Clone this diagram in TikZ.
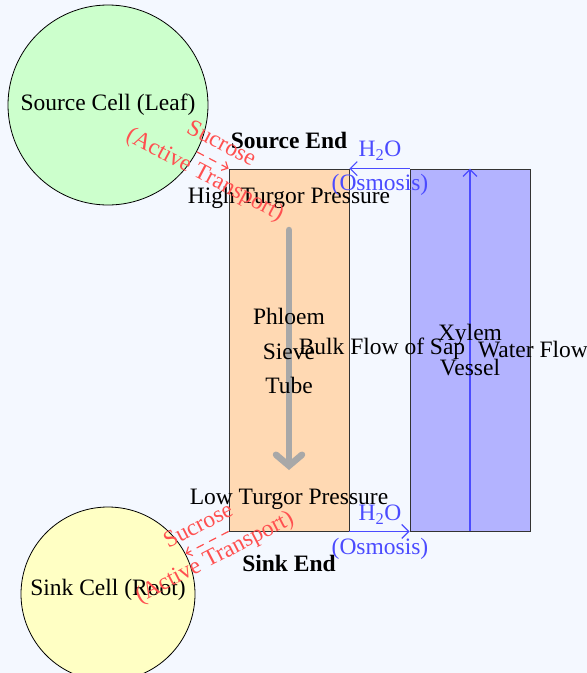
\documentclass[tikz,border=0pt]{standalone}
\usepackage{fontspec}
\setmainfont{Liberation Serif}
\usetikzlibrary{arrows.meta}
\definecolor{bgcol}{HTML}{F4F8FF}
\definecolor{leafcol}{HTML}{CCFFCC}
\definecolor{rootcol}{HTML}{FFFFC4}
\definecolor{phloemcol}{HTML}{FFD9B3}
\definecolor{xylemcol}{HTML}{B3B3FF}
\definecolor{watercol}{HTML}{4B4BFF}
\definecolor{sugarcol}{HTML}{FF5050}
\definecolor{flowcol}{HTML}{A8A8A8}
\tikzset{
  txt/.style={font=\fontsize{23.5}{27}\selectfont, inner sep=0pt, align=center},
  cell/.style={circle, draw=black, line width=0.8pt, inner sep=0pt},
  tube/.style={rectangle, draw=black!80, line width=0.8pt, minimum width=120pt, minimum height=362pt, inner sep=0pt},
  water/.style={draw=watercol, line width=1.2pt, -{Straight Barb[length=7pt,width=14pt]}},
  sugar/.style={draw=sugarcol, line width=1.2pt, dashed, dash pattern=on 8pt off 6pt, -{Straight Barb[length=5pt,width=10pt]}},
  sugartxt/.style={txt, text=sugarcol, font=\fontsize{23.5}{35}\selectfont},
  watertxt/.style={txt, text=watercol},
}
\begin{document}
\begin{tikzpicture}[x=1pt,y=-1pt]
  \fill[bgcol] (0,0) rectangle (587,673);
  \useasboundingbox (0,0) rectangle (587,673);

  % cells
  \node[cell, fill=leafcol, minimum size=200pt] (src) at (108,105) {};
  \node[cell, fill=rootcol, minimum size=174pt] (sink) at (108,594) {};
  \node[txt] (srclbl) at (108,105) {Source Cell (Leaf)};
  \node[txt] (sinklbl) at (108,590) {Sink Cell (Root)};

  % vessels
  \node[tube, fill=phloemcol] (phloem) at (289,350) {};
  \node[tube, fill=xylemcol] (xylem) at (470,350) {};

  % water rising in the xylem
  \draw[water] (xylem.south) -- (xylem.north);

  % bulk flow down the sieve tube
  \coordinate (bulktop) at (289,230);
  \coordinate (bulkbot) at (289,470);
  \draw[draw=flowcol, line width=6.5pt, line cap=round,
        -{Straight Barb[length=11pt,width=26pt,line cap=round]}] (bulktop) -- (bulkbot);

  % labels on the vessels
  \node[txt, font=\fontsize{23.5}{34.5}\selectfont] (phloemlbl) at (289,351) {Phloem\\Sieve\\Tube};
  \node[txt, font=\fontsize{23.5}{35}\selectfont] (xylemlbl) at (470,350) {Xylem\\Vessel};
  \node[txt] (bulklbl) at (382,349) {Bulk Flow of Sap};
  \node[txt] (waterlbl) at (533,350) {Water Flow};
  \node[txt, font=\fontsize{23.5}{27}\selectfont\bfseries] (srcend) at (289,140) {Source End};
  \node[txt, font=\fontsize{23.5}{27}\selectfont\bfseries] (sinkend) at (289,563) {Sink End};
  \node[txt] (highp) at (289,198) {High Turgor Pressure};
  \node[txt] (lowp) at (289,499) {Low Turgor Pressure};

  % osmosis between xylem and phloem
  \draw[water] (xylem.north west) -- (phloem.north east);
  \draw[water] (phloem.south east) -- (xylem.south west);
  \node[watertxt] (h2otop) at (380,151) {H\textsubscript{2}O};
  \node[watertxt] (osmtop) at (380,185) {(Osmosis)};
  \node[watertxt] (h2obot) at (380,515) {H\textsubscript{2}O};
  \node[watertxt] (osmbot) at (380,549) {(Osmosis)};

  % sucrose loading and unloading
  \draw[sugar] (src) -- node[sugartxt, sloped] (loadlbl) {Sucrose\\(Active Transport)} (phloem.north west);
  \draw[sugar] (phloem.south west) -- node[sugartxt, sloped] (unloadlbl) {Sucrose\\(Active Transport)} (sink);
\end{tikzpicture}
\end{document}
